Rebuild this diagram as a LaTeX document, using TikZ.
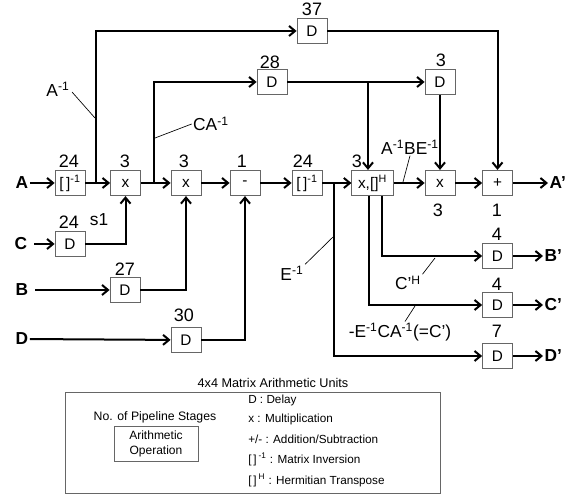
\documentclass[tikz,border=0pt]{standalone}
\usepackage{fontspec}
\setmainfont{Liberation Sans}
\usetikzlibrary{arrows.meta}

\begin{document}
\begin{tikzpicture}[
    x=0.75pt, y=-0.75pt,
    unit/.style={draw=black!60, line width=0.6pt, minimum width=22.5pt, minimum height=19pt, inner sep=1pt, font=\fontsize{11.5}{13}\selectfont},
    arr/.style={-{Straight Barb[length=4.5pt,width=7.5pt]}, line width=1.5pt},
    num/.style={font=\fontsize{13.5}{15}\selectfont, inner sep=0pt},
    lbl/.style={font=\fontsize{13}{15}\selectfont, inner sep=1pt},
    io/.style={font=\fontsize{13}{15}\selectfont\bfseries, inner sep=1pt},
    lead/.style={line width=0.5pt},
    key/.style={font=\fontsize{8.8}{10}\selectfont, anchor=west, inner sep=0pt}
]
\useasboundingbox (0,0) rectangle (586,495);

% inputs
\node[io] (inA) at (22,183) {A};
\node[io] (inC) at (21,244) {C};
\node[io] (inB) at (22,290) {B};
\node[io] (inD) at (22,339) {D};

% main chain
\node[unit] (inv1) at (70,183) {[\,]\textsuperscript{-1}};
\node[unit] (mul1) at (125.5,183) {x};
\node[unit] (mul2) at (186,183) {x};
\node[unit] (sub) at (245,183) {-};
\node[unit] (inv2) at (307,183) {[\,]\textsuperscript{-1}};
\node[unit, minimum width=31pt] (mulH) at (372.5,183) {x,[]\textsuperscript{H}};
\node[unit] (mul3) at (440,183) {x};
\node[unit] (add) at (497.5,183) {+};

% delays
\node[unit] (dC) at (70,244) {D};
\node[unit] (dB) at (125,290) {D};
\node[unit] (dD) at (186,340) {D};
\node[unit] (d28) at (272,82) {D};
\node[unit] (d3) at (440,82) {D};
\node[unit] (d37) at (312,31) {D};
\node[unit] (dBo) at (497.5,256) {D};
\node[unit] (dCo) at (497.5,305) {D};
\node[unit] (dDo) at (497.5,356) {D};

% outputs
\node[io, anchor=west] (outA) at (548,183) {A’};
\node[io, anchor=west] (outB) at (543,256) {B’};
\node[io, anchor=west] (outC) at (543,305) {C’};
\node[io, anchor=west] (outD) at (543,356) {D’};

% pipeline stages
\node[num] (n1) at (69,161) {24};
\node[num] (n2) at (125,161) {3};
\node[num] (n3) at (184,161) {3};
\node[num] (n4) at (242,161) {1};
\node[num] (n5) at (303,161) {24};
\node[num] (n6) at (357,161) {3};
\node[num] (n7) at (438,210) {3};
\node[num] (n8) at (497,210) {1};
\node[num] (n9) at (270,62) {28};
\node[num] (n10) at (441,60) {3};
\node[num] (n11) at (312,9) {37};
\node[num] (n12) at (69,222) {24};
\node[num] (n13) at (125,269) {27};
\node[num] (n14) at (184,315) {30};
\node[num] (n15) at (497,234) {4};
\node[num] (n16) at (497,284) {4};
\node[num] (n17) at (497,331) {7};

% branch points
\coordinate (bA) at (96,183);
\coordinate (bCA) at (154,183);
\coordinate (bE) at (334,183);
\coordinate (b28) at (368,82);
\coordinate (hC) at (369,196);
\coordinate (hB) at (382,196);

% data flow
\draw[arr] (inA) -- (inv1);
\draw[arr] (inv1) -- (mul1);
\draw[arr] (mul1) -- (mul2);
\draw[arr] (mul2) -- (sub);
\draw[arr] (sub) -- (inv2);
\draw[arr] (inv2) -- (mulH);
\draw[arr] (mulH) -- (mul3);
\draw[arr] (mul3) -- (add);
\draw[arr] (add) -- (outA);
\draw[arr] (bA) |- (d37);
\draw[arr] (d37) -| (add);
\draw[arr] (bCA) |- (d28);
\draw[arr] (d28) -- (d3);
\draw[arr] (b28) -- (b28 |- mulH.north);
\draw[arr] (d3) -- (mul3);
\draw[arr, shorten <=4pt] (inC) -- (dC);
\draw[arr] (dC) -| (mul1);
\draw[arr, shorten <=4pt] (inB) -- (dB);
\draw[arr] (dB) -| (mul2);
\draw[arr] (inD) -- (dD);
\draw[arr] (dD) -| (sub);
\draw[arr] (bE) |- (dDo);
\draw[arr] (hB) |- (dBo);
\draw[arr] (hC) |- (dCo);
\draw[arr] (dBo) -- (outB);
\draw[arr] (dCo) -- (outC);
\draw[arr] (dDo) -- (outD);

% signal labels
\node[lbl] (s1) at (99,220) {s1};
\node[lbl] (lAi) at (58,89) {A\textsuperscript{-1}};
\node[lbl] (lCAi) at (211,124) {CA\textsuperscript{-1}};
\node[lbl] (lABE) at (410,147) {A\textsuperscript{-1}BE\textsuperscript{-1}};
\node[lbl] (lEi) at (292,273) {E\textsuperscript{-1}};
\node[lbl] (lCH) at (408,283) {C’\textsuperscript{H}};
\node[lbl] (lCp) at (400,332) {-E\textsuperscript{-1}CA\textsuperscript{-1}(=C’)};
\coordinate (pAi) at (95,118);
\coordinate (pCAi) at (155,138);
\coordinate (pABE) at (403,182);
\coordinate (pEi) at (333,237);
\coordinate (pCH) at (435,258);
\coordinate (pCp) at (415,306);
\draw[lead] (72,92) -- (pAi);
\draw[lead] (lCAi.west) -- (pCAi);
\draw[lead] (lABE.south) -- (pABE);
\draw[lead] (lEi.north east) -- (pEi);
\draw[lead] (lCH.north east) -- (pCH);
\draw[lead] (lCp.north) ++(5,0) -- (pCp);

% legend
\node[font=\fontsize{9.5}{11}\selectfont] (ttl) at (273,383) {4x4 Matrix Arithmetic Units};
\draw[black!60, line width=0.6pt] (65,392) rectangle (440,493);
\node[font=\fontsize{9.2}{11}\selectfont] (stg) at (155,417) {No. of Pipeline Stages};
\node[draw=black!60, line width=0.6pt, minimum width=63pt, minimum height=26pt, align=center, font=\fontsize{9}{11}\selectfont] (op) at (156,444) {Arithmetic\\Operation};
\node[key] (k1) at (248,400) {D : Delay};
\node[key] (k2) at (248,419) {x : Multiplication};
\node[key] (k3) at (248,439) {+/- : Addition/Subtraction};
\node[key] (k4) at (248,459) {[\,]\,\textsuperscript{-1} : Matrix Inversion};
\node[key] (k5) at (248,480) {[\,]\,\textsuperscript{H} : Hermitian Transpose};
\end{tikzpicture}
\end{document}
